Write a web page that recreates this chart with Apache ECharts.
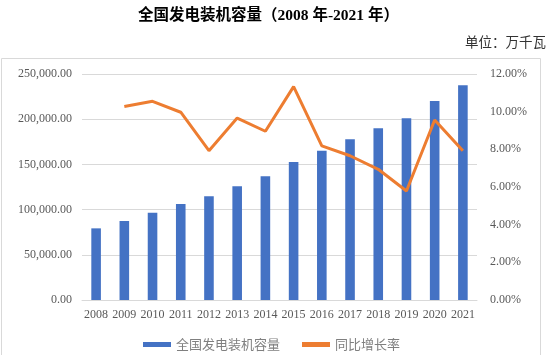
<!DOCTYPE html>
<html>
<head>
<meta charset="utf-8">
<script src="https://cdn.jsdelivr.net/npm/echarts@6/dist/echarts.min.js"></script>
<style>
html,body{margin:0;padding:0;background:#fff;}
#c{width:549px;height:355px;}
</style>
</head>
<body>
<div id="c"></div>
<script>
const years = ['2008','2009','2010','2011','2012','2013','2014','2015','2016','2017','2018','2019','2020','2021'];
const capacity = [79253, 87410, 96641, 106253, 114676, 125768, 137018, 152527, 165051, 177708, 189967, 201006, 220058, 237692];
const growth = [null, 10.27, 10.55, 9.97, 7.93, 9.66, 8.96, 11.33, 8.18, 7.66, 6.94, 5.79, 9.56, 7.93];
const titleText = '全国发电装机容量（2008 年-2021 年）';
const unitText = '单位：万千瓦';
const seriesNames = ['全国发电装机容量', '同比增长率'];

const serif = '"Liberation Serif", "Noto Sans CJK SC", serif';
const chart = echarts.init(document.getElementById('c'));
chart.setOption({
  animation: false,
  title: {
    text: titleText,
    left: 133,
    top: 3,
    textStyle: {fontFamily: serif, fontSize: 15.5, fontWeight: 'bold', color: '#000'}
  },
  graphic: [
    {type: 'text', right: 3, top: 35, style: {text: unitText, font: '13.5px "Noto Sans CJK SC", serif', fill: '#333'}},
    {type: 'rect', shape: {x: 1.5, y: 58.5, width: 539, height: 310}, style: {fill: 'none', stroke: '#D9D9D9', lineWidth: 1}}
  ],
  legend: {
    left: 138,
    top: 333,
    itemGap: 22,
    itemWidth: 28,
    itemHeight: 5,
    textStyle: {fontFamily: '"Noto Sans CJK SC", serif', fontSize: 13, color: '#7F7F7F'},
    data: [{name: seriesNames[0], icon: 'rect'}, {name: seriesNames[1], icon: 'rect', itemStyle: {color: '#ED7D31'}}]
  },
  grid: {left: 82, right: 72, top: 74, bottom: 55},
  xAxis: {
    type: 'category',
    data: years,
    axisTick: {show: false},
    axisLine: {lineStyle: {color: '#D9D9D9'}},
    axisLabel: {interval: 0, fontFamily: serif, fontSize: 12, color: '#595959', margin: 9}
  },
  yAxis: [
    {
      type: 'value', min: 0, max: 250000, interval: 50000,
      axisLabel: {
        fontFamily: serif, fontSize: 12, color: '#595959', margin: 10,
        formatter: v => v.toLocaleString('en-US', {minimumFractionDigits: 2, maximumFractionDigits: 2})
      },
      splitLine: {lineStyle: {color: '#D9D9D9'}},
      axisLine: {show: false}, axisTick: {show: false}
    },
    {
      type: 'value', min: 0, max: 12, interval: 2,
      axisLabel: {
        fontFamily: serif, fontSize: 12, color: '#595959', margin: 13,
        formatter: v => v.toFixed(2) + '%'
      },
      splitLine: {show: false},
      axisLine: {show: false}, axisTick: {show: false}
    }
  ],
  series: [
    {
      name: seriesNames[0], type: 'bar', data: capacity, yAxisIndex: 0,
      barWidth: '34%', itemStyle: {color: '#4472C4'}
    },
    {
      name: seriesNames[1], type: 'line', data: growth, yAxisIndex: 1,
      symbol: 'none', lineStyle: {color: '#ED7D31', width: 3}, itemStyle: {color: '#ED7D31'}
    }
  ]
});
</script>
</body>
</html>
